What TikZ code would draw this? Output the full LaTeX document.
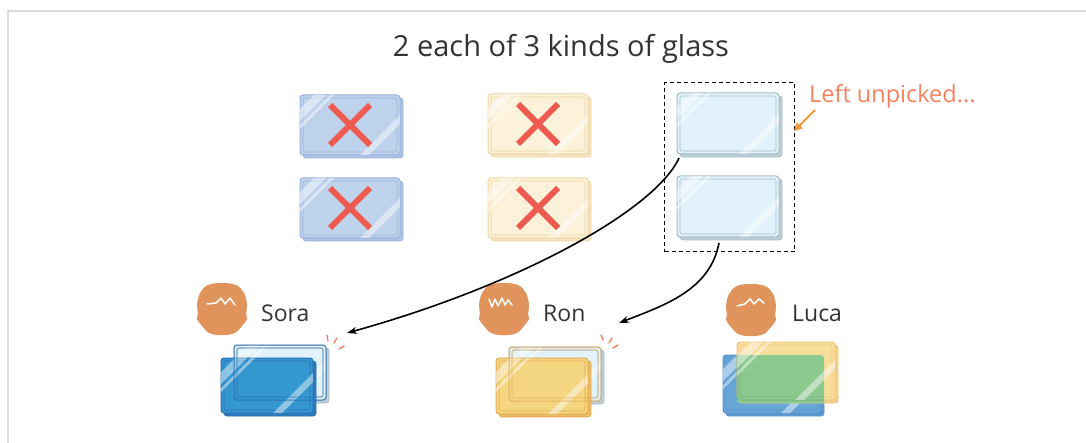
\documentclass[tikz,border=0pt]{standalone}
\usepackage{fontspec}
\setmainfont{Open Sans}
\usetikzlibrary{arrows.meta}

\definecolor{ink}{HTML}{333333}
\definecolor{framec}{HTML}{DCDCDC}
\definecolor{crossc}{HTML}{EE5A4F}
\definecolor{notec}{HTML}{F4845F}
\definecolor{notearrow}{HTML}{F39A3A}
\definecolor{sparkc}{HTML}{F47C5A}
\definecolor{headc}{HTML}{E0935A}
% pane colours: fill / edge / back
\definecolor{bluF}{HTML}{BFD2EC}\definecolor{bluE}{HTML}{9BB3DB}\definecolor{bluB}{HTML}{ABC2E3}
\definecolor{yelF}{HTML}{FBF2D9}\definecolor{yelE}{HTML}{EFD6A5}\definecolor{yelB}{HTML}{F5E3BE}
\definecolor{cleF}{HTML}{E1F2FA}\definecolor{cleE}{HTML}{A8BCC6}\definecolor{cleB}{HTML}{BCCFD8}
\definecolor{dbF}{HTML}{3497CF}\definecolor{dbE}{HTML}{2A6FB5}\definecolor{dbB}{HTML}{2F79BD}
\definecolor{dyF}{HTML}{F4D680}\definecolor{dyE}{HTML}{E3AA55}\definecolor{dyB}{HTML}{EDBD65}
\definecolor{mbF}{HTML}{67A6D7}\definecolor{mbE}{HTML}{5B92CC}\definecolor{mbB}{HTML}{5E97CF}
\definecolor{myF}{HTML}{F8DE9C}\definecolor{myE}{HTML}{EEC67E}\definecolor{myB}{HTML}{F2D08A}
\definecolor{grnF}{HTML}{8BC98F}\definecolor{grnE}{HTML}{79B57E}

\tikzset{
  label/.style={font=\fontsize{23}{26}\selectfont, text=ink, inner sep=0pt, anchor=base west},
  pick/.style={-{Stealth[length=10pt,width=7pt]}, line width=1.6pt, black},
  spark/.style={sparkc, line width=1.3pt, line cap=round},
  hair/.style={white, line width=1.5pt, line cap=round, line join=round},
  xmark/.style={crossc, line width=6pt},
}

% glass pane body: #1,#2 top left, #3,#4 bottom right of the front sheet; #5 fill, #6 edge, #7 back sheet
\newcommand\panebody[7]{%
  \filldraw[fill=#7, draw=#6, line width=.8pt, rounded corners=3pt] (#1+3,#2+3) rectangle (#3+3,#4+3);
  \filldraw[fill=#5, draw=#6, line width=1pt, rounded corners=3pt] (#1,#2) rectangle (#3,#4);
  \draw[#6, line width=.6pt, rounded corners=2pt] (#1+3,#2+3) rectangle (#3-3,#4-3);
}
% reflections on a pane
\newcommand\paneglint[4]{%
  \begin{scope}
    \clip[rounded corners=3pt] (#1,#2) rectangle (#3,#4);
    \fill[white, opacity=.45] (#1+14,#2) -- (#1+26,#2) -- (#1,#2+26) -- (#1,#2+14) -- cycle;
    \fill[white, opacity=.45] (#1+30,#2) -- (#1+34,#2) -- (#1,#2+34) -- (#1,#2+30) -- cycle;
    \fill[white, opacity=.45] (#3,#4-40) -- (#3,#4-31) -- (#3-31,#4) -- (#3-40,#4) -- cycle;
  \end{scope}
}
\newcommand\glasspane[7]{\panebody{#1}{#2}{#3}{#4}{#5}{#6}{#7}\paneglint{#1}{#2}{#3}{#4}}
% outline of a pane seen through another one
\newcommand\paneedge[5]{%
  \draw[#5, line width=1pt, rounded corners=3pt, opacity=.85] (#1,#2) rectangle (#3,#4);
  \draw[#5, line width=.6pt, rounded corners=2pt, opacity=.85] (#1+3,#2+3) rectangle (#3-3,#4-3);
}
% a red cross over a pane
\newcommand\crossout[2]{%
  \draw[xmark] (#1-20,#2-20) -- (#1+20,#2+20);
  \draw[xmark] (#1-20,#2+20) -- (#1+20,#2-20);
}
% a head, centred at #1,#2
\newcommand\headshape[2]{%
  \fill[headc] plot[smooth cycle, tension=.6] coordinates {
    (#1,#2-26) (#1+14,#2-24) (#1+22,#2-16) (#1+25,#2-4) (#1+24,#2+5) (#1+25,#2+10)
    (#1+20,#2+17) (#1+13,#2+24) (#1+4,#2+26) (#1-4,#2+26) (#1-13,#2+24) (#1-20,#2+17)
    (#1-25,#2+10) (#1-24,#2+5) (#1-25,#2-4) (#1-22,#2-16) (#1-14,#2-24)};
}

\begin{document}
\begin{tikzpicture}[x=1pt, y=-1pt]
  \useasboundingbox (0,0) rectangle (1086,443);
  \fill[white] (0,0) rectangle (1086,443);

  % page frame
  \draw[framec, line width=1.5pt] (8,443) -- (8,11) -- (1086,11);

  % heading
  \node[font=\fontsize{29}{32}\selectfont, text=ink, inner sep=0pt, anchor=base] (title) at (561,57) {2 each of 3 kinds of glass};

  % the three kinds, two of each
  \glasspane{300}{95}{400}{155}{bluF}{bluE}{bluB}
  \glasspane{300}{178}{400}{238}{bluF}{bluE}{bluB}
  \glasspane{488}{94}{588}{154}{yelF}{yelE}{yelB}
  \glasspane{488}{178}{588}{238}{yelF}{yelE}{yelB}
  \glasspane{677}{93}{779}{154}{cleF}{cleE}{cleB}
  \glasspane{677}{176}{779}{237}{cleF}{cleE}{cleB}
  \crossout{350}{125}
  \crossout{350}{208}
  \crossout{538}{124}
  \crossout{538}{208}

  % the unpicked pair
  \node[draw=black, dashed, dash pattern=on 4pt off 3pt, line width=1.2pt, minimum width=130pt, minimum height=169pt, inner sep=0pt, anchor=north west] (left) at (664,82) {};
  \node[font=\fontsize{23.5}{26}\selectfont, text=notec, inner sep=0pt, anchor=base west] (note) at (809,103) {Left unpicked...};
  \coordinate (noteTail) at (815,110);
  \coordinate (noteTip) at (794,131);
  \draw[notearrow, line width=2pt, -{Triangle[length=8pt,width=8pt]}] (noteTail) -- (noteTip);

  % Sora
  \headshape{222}{309}
  \draw[hair] (207,304) -- (216,303) -- (221,298) -- (225,304) -- (230,298) -- (235,305);
  \node[label] (sora) at (261,322) {Sora};
  \panebody{234}{345}{326}{400}{cleF}{cleE}{cleB}
  \paneglint{234}{345}{326}{400}
  \panebody{221}{358}{313}{413}{dbF}{dbE}{dbB}
  \paneglint{221}{358}{313}{413}
  \paneedge{234}{345}{326}{400}{dbE}
  \draw[spark] (327,335) -- (328,341);
  \draw[spark] (337,338) -- (334,343);
  \draw[spark] (344,346) -- (339,349);

  % Ron
  \headshape{504}{309}
  \draw[hair] (489,299) -- (492,307) -- (495,299) -- (498,306) -- (502,298) -- (505,305) -- (508,300) -- (512,305);
  \node[label] (ron) at (543,321) {Ron};
  \panebody{509}{347}{601}{401}{cleF}{cleE}{cleB}
  \paneglint{509}{347}{601}{401}
  \panebody{496}{358}{588}{414}{dyF}{dyE}{dyB}
  \paneglint{496}{358}{588}{414}
  \paneedge{509}{347}{601}{401}{dyE}
  \draw[spark] (601,335) -- (603,340);
  \draw[spark] (612,338) -- (609,343);
  \draw[spark] (618,345) -- (613,348);

  % Luca
  \headshape{751}{310}
  \draw[hair] (737,306) -- (745,304) -- (750,299) -- (754,304) -- (759,299) -- (764,303);
  \node[label] (luca) at (792,321) {Luca};
  \panebody{723}{355}{821}{413}{mbF}{mbE}{mbB}
  \paneglint{723}{355}{821}{413}
  \panebody{737}{342}{835}{400}{myF}{myE}{myB}
  \begin{scope}
    \clip[rounded corners=3pt] (723,355) rectangle (824,416);
    \fill[grnF, rounded corners=3pt] (737,342) rectangle (838,403);
    \draw[grnE, line width=1pt, rounded corners=3pt] (737,342) rectangle (835,400);
    \draw[grnE, line width=.6pt, rounded corners=2pt] (740,345) rectangle (832,397);
  \end{scope}
  \paneglint{737}{342}{835}{400}

  % picks
  \coordinate (fromTop) at (679,158);
  \coordinate (toSora) at (347,333);
  \coordinate (fromBox) at (719,243);
  \coordinate (toRon) at (619,323);
  \draw[pick] (fromTop) .. controls (655,210) and (520,285) .. (toSora);
  \draw[pick] (fromBox) .. controls (710,290) and (665,305) .. (toRon);
\end{tikzpicture}
\end{document}
